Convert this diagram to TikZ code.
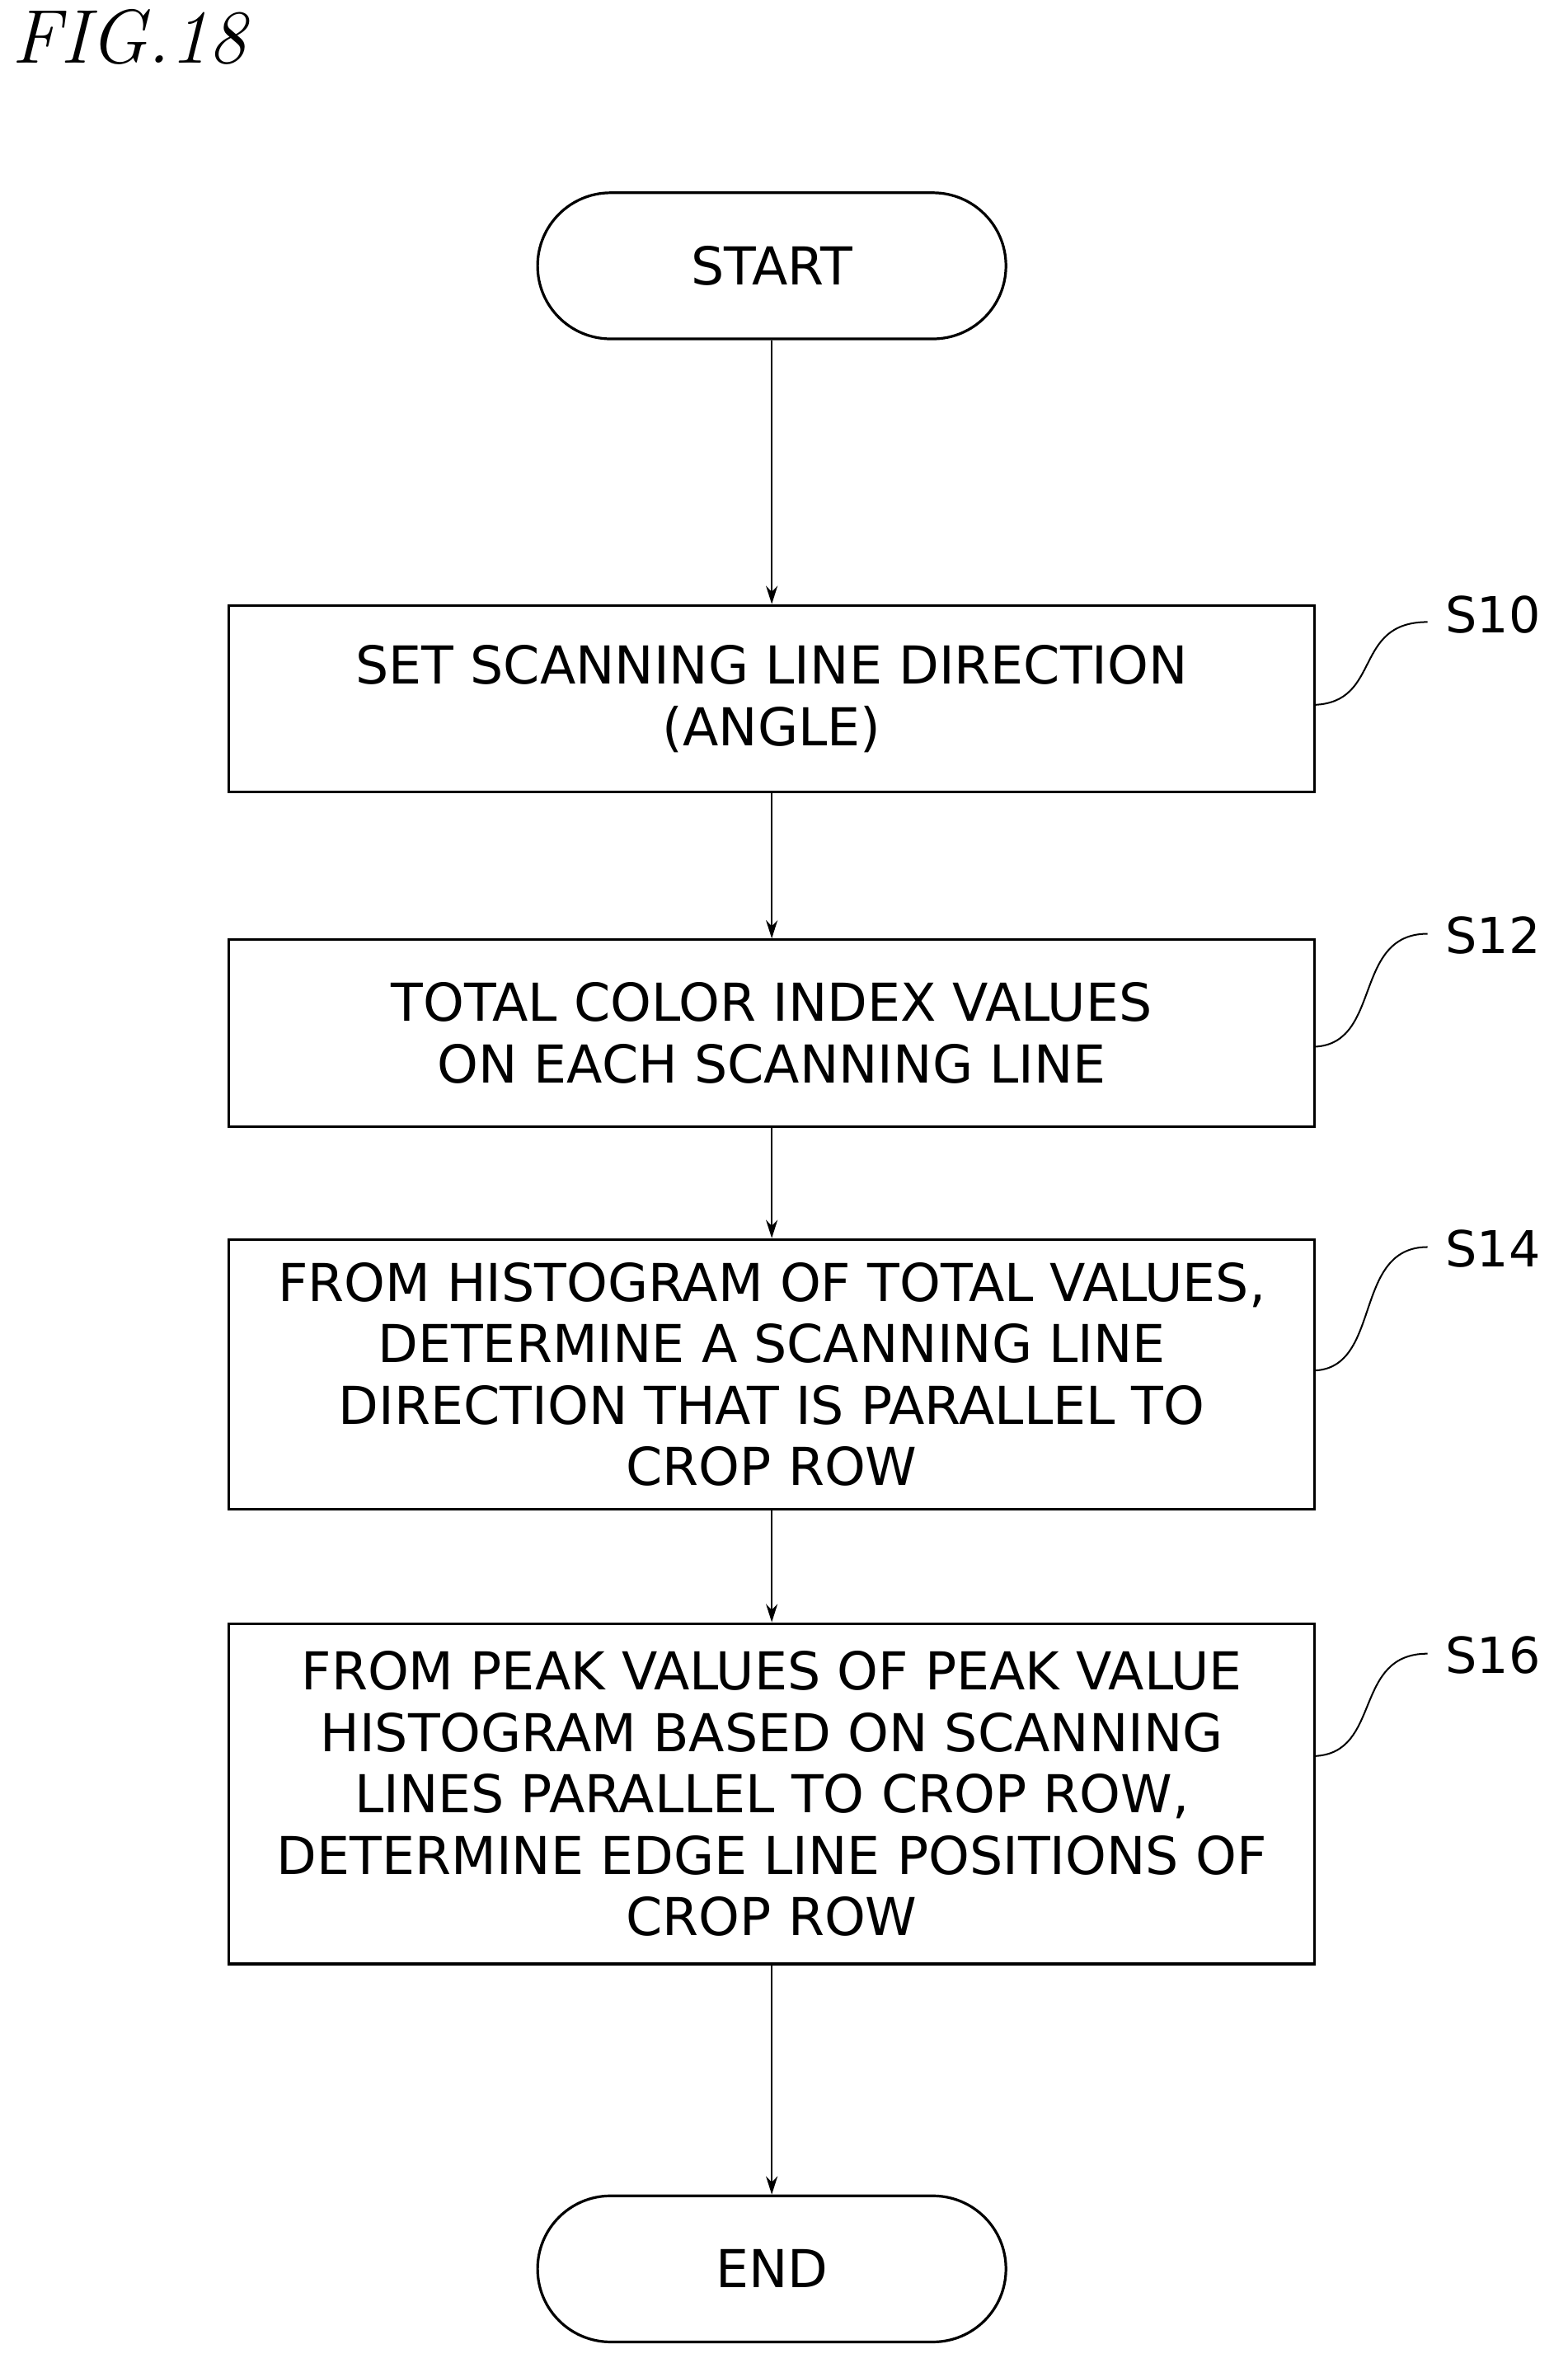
\documentclass[tikz,border=0pt]{standalone}
\usepackage{fontspec}
\setsansfont{DejaVu Sans}
\usetikzlibrary{arrows.meta,calc}
\begin{document}
\begin{tikzpicture}[x=1.816pt,y=-1.816pt,
  txt/.style={font=\sffamily\fontsize{63}{74}\selectfont,align=center},
  box/.style={draw,line width=3.2pt,txt,inner sep=0pt},
  term/.style={draw,line width=3.2pt,rounded corners=88pt,txt,minimum width=311*1.816pt,minimum height=97*1.816pt},
  arr/.style={-{Stealth[length=22pt,width=14pt]},line width=2pt},
  lab/.style={font=\sffamily\fontsize{60}{70}\selectfont,anchor=west},
  sq/.style={line width=2pt}]
\useasboundingbox (0,0) rectangle (1041,1569);
\node[anchor=north west,font=\itshape\fontsize{92}{96}\selectfont] (fig) at (6,4) {FIG.18};
\node[term] (start) at (512.5,176.5) {START};
\node[box,minimum width=721*1.816pt,minimum height=124*1.816pt] (b1) at (512.5,464) {SET SCANNING LINE DIRECTION\\(ANGLE)};
\node[box,minimum width=721*1.816pt,minimum height=124*1.816pt] (b2) at (512.5,686) {TOTAL COLOR INDEX VALUES\\ON EACH SCANNING LINE};
\node[box,minimum width=721*1.816pt,minimum height=179*1.816pt] (b3) at (512.5,912.5) {FROM HISTOGRAM OF TOTAL VALUES,\\DETERMINE A SCANNING LINE\\DIRECTION THAT IS PARALLEL TO\\CROP ROW};
\node[box,minimum width=721*1.816pt,minimum height=226*1.816pt] (b4) at (512.5,1191) {FROM PEAK VALUES OF PEAK VALUE\\HISTOGRAM BASED ON SCANNING\\LINES PARALLEL TO CROP ROW,\\DETERMINE EDGE LINE POSITIONS OF\\CROP ROW};
\node[term] (end) at (512.5,1506.5) {END};
\draw[arr] (start) -- (b1);
\draw[arr] (b1) -- (b2);
\draw[arr] (b2) -- (b3);
\draw[arr] (b3) -- (b4);
\draw[arr] (b4) -- (end);
\node[lab] (s10) at (958,408) {S10};
\node[lab] (s12) at (958,621) {S12};
\node[lab] (s14) at (958,829) {S14};
\node[lab] (s16) at (958,1099) {S16};
\coordinate (c1) at (873,468); \coordinate (d1) at (948,413);
\coordinate (c2) at (873,695); \coordinate (d2) at (948,620);
\coordinate (c3) at (873,910); \coordinate (d3) at (948,828);
\coordinate (c4) at (873,1166); \coordinate (d4) at (948,1098);
\foreach \a/\b in {c1/d1,c2/d2,c3/d3,c4/d4}{
  \draw[sq] (\a) .. controls ($(\a)+(45,-2)$) and ($(\b)+(-50,0)$) .. (\b);
}
\end{tikzpicture}
\end{document}
